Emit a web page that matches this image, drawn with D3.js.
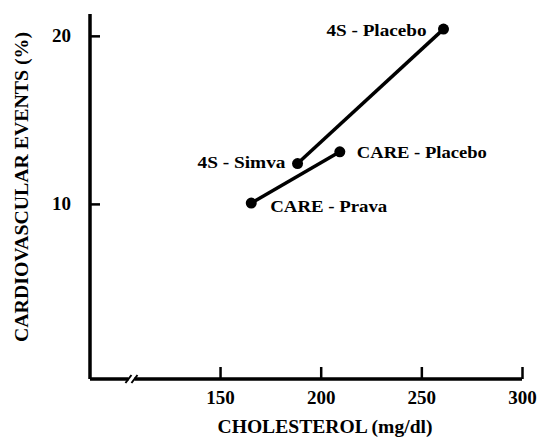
<!DOCTYPE html>
<html>
<head>
<meta charset="utf-8">
<script src="https://d3js.org/d3.v7.min.js"></script>
<style>
  body { margin: 0; background: #fff; }
  text { font-family: "Liberation Serif", "Times New Roman", serif; font-weight: bold; fill: #000; }
</style>
</head>
<body>
<div id="my_dataviz"></div>
<script>
// data
var trials = ["4S", "CARE"];
var fourS_cholesterol = [188.5, 261];
var fourS_events = [12.4, 20.4];
var fourS_labels = ["4S - Simva", "4S - Placebo"];
var care_cholesterol = [165.5, 209.5];
var care_events = [10.05, 13.1];
var care_labels = ["CARE - Prava", "CARE - Placebo"];
var xTicks = [150, 200, 250, 300];
var yTicks = [10, 20];

var width = 538, height = 442;

var svg = d3.select("#my_dataviz")
  .append("svg")
    .attr("width", width)
    .attr("height", height);

// scales (x axis is broken near the origin)
var x = d3.scaleLinear().domain([85.4, 300]).range([90, 522]);
var y = d3.scaleLinear().domain([-0.42, 21.3]).range([379, 14]);

// X axis: ticks point up, domain drawn by hand for the break
var xAxis = svg.append("g")
    .attr("transform", "translate(0," + y(-0.42) + ")")
    .call(d3.axisBottom(x).tickValues(xTicks).tickSizeInner(-12).tickSizeOuter(0).tickPadding(12));
xAxis.select(".domain").remove();
xAxis.selectAll(".tick line").attr("stroke", "#000").attr("stroke-width", 2.5);
xAxis.selectAll(".tick text").style("font-size", "19px").style("font-family", "Liberation Serif").style("font-weight", "bold");

var brk = 106;
var yb = y(-0.42);
svg.append("path")
    .attr("d", "M" + x(85.4) + "," + yb + "H" + (x(brk) - 3) + "M" + (x(brk) + 3) + "," + yb + "H" + x(300))
    .attr("stroke", "#000").attr("stroke-width", 3.5).attr("fill", "none");
[-3, 3].forEach(function(o) {
  svg.append("line")
    .attr("x1", x(brk) + o - 3).attr("y1", yb + 4)
    .attr("x2", x(brk) + o + 3).attr("y2", yb - 4)
    .attr("stroke", "#000").attr("stroke-width", 2);
});

// Y axis: ticks point right
var yAxis = svg.append("g")
    .attr("transform", "translate(" + x(85.4) + ",0)")
    .call(d3.axisLeft(y).tickValues(yTicks).tickSizeInner(-10).tickSizeOuter(0).tickPadding(19));
yAxis.select(".domain").attr("stroke", "#000").attr("stroke-width", 3.5)
    .attr("d", "M0," + y(-0.42) + "V" + y(21.3));
yAxis.selectAll(".tick line").attr("stroke", "#000").attr("stroke-width", 2.5);
yAxis.selectAll(".tick text").style("font-size", "19px").style("font-family", "Liberation Serif").style("font-weight", "bold");

// the two trials
var series = [
  { name: trials[0], pts: fourS_cholesterol.map(function(c, i) { return { c: c, e: fourS_events[i], label: fourS_labels[i] }; }) },
  { name: trials[1], pts: care_cholesterol.map(function(c, i) { return { c: c, e: care_events[i], label: care_labels[i] }; }) }
];

var line = d3.line().x(function(d) { return x(d.c); }).y(function(d) { return y(d.e); });

series.forEach(function(s) {
  svg.append("path")
    .datum(s.pts)
    .attr("d", line)
    .attr("fill", "none")
    .attr("stroke", "#000")
    .attr("stroke-width", 3.5);
  svg.selectAll(null)
    .data(s.pts)
    .enter().append("circle")
      .attr("cx", function(d) { return x(d.c); })
      .attr("cy", function(d) { return y(d.e); })
      .attr("r", 5.5)
      .attr("fill", "#000");
});

// label placement: [dx, dy, anchor, width]
var labelPos = {
  "4S - Placebo": [-17, 7, "end", 100],
  "4S - Simva": [-12, 4, "end", 88],
  "CARE - Placebo": [17, 6, "start", 130],
  "CARE - Prava": [19, 9, "start", 117]
};
series.forEach(function(s) {
  s.pts.forEach(function(d) {
    var p = labelPos[d.label];
    svg.append("text")
      .attr("x", x(d.c) + p[0])
      .attr("y", y(d.e) + p[1])
      .attr("text-anchor", p[2])
      .attr("textLength", p[3])
      .attr("lengthAdjust", "spacingAndGlyphs")
      .style("font-size", "16px")
      .text(d.label);
  });
});

// axis titles
svg.append("text")
    .attr("x", 325)
    .attr("y", 433)
    .attr("text-anchor", "middle")
    .attr("textLength", 215)
    .attr("lengthAdjust", "spacingAndGlyphs")
    .style("font-size", "18px")
    .text("CHOLESTEROL  (mg/dl)");

svg.append("text")
    .attr("transform", "translate(28,187) rotate(-90)")
    .attr("text-anchor", "middle")
    .attr("textLength", 310)
    .attr("lengthAdjust", "spacingAndGlyphs")
    .style("font-size", "18px")
    .text("CARDIOVASCULAR EVENTS  (%)");
</script>
</body>
</html>
